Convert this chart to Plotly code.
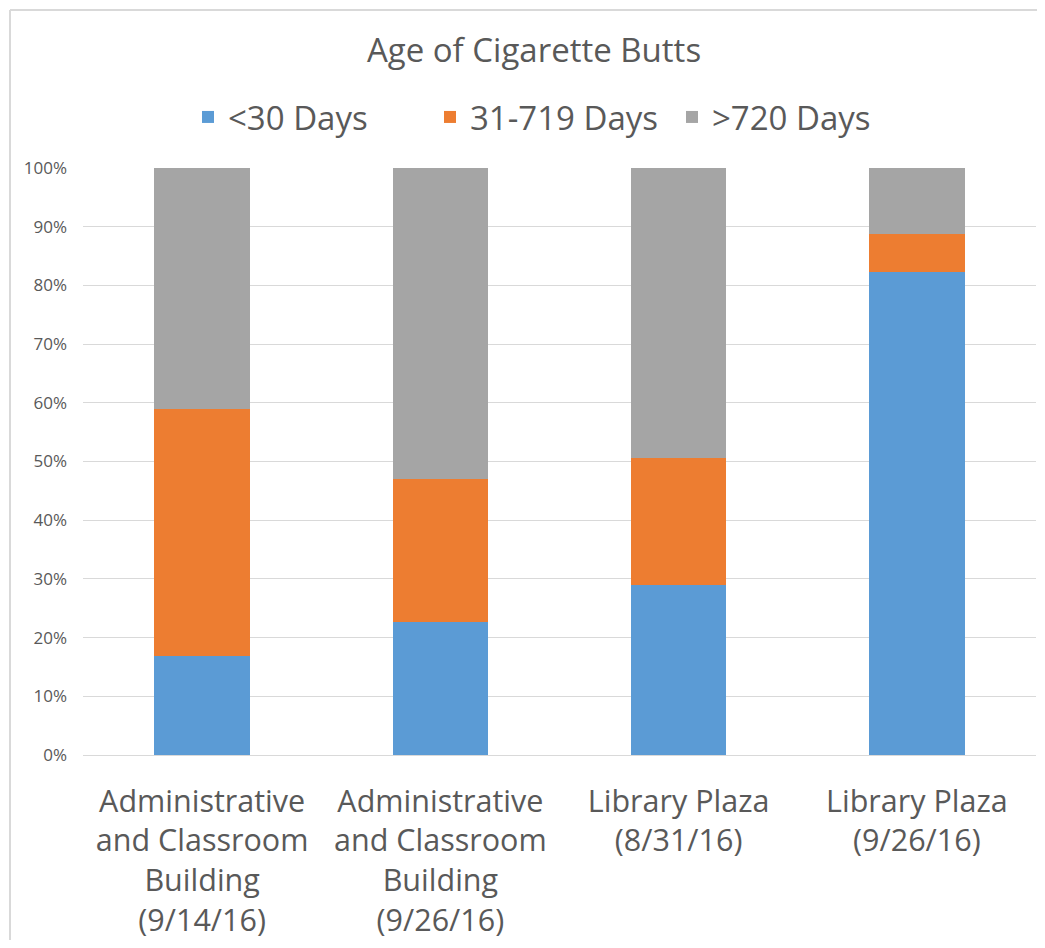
import plotly.graph_objects as go

categories = [
    "Administrative<br>and Classroom<br>Building<br>(9/14/16)",
    "Administrative<br>and Classroom<br>Building<br>(9/26/16)",
    "Library Plaza<br>(8/31/16)",
    "Library Plaza<br>(9/26/16)",
]
under_30 = [0.168, 0.227, 0.290, 0.823]
d31_719 = [0.421, 0.243, 0.216, 0.065]
over_720 = [0.411, 0.530, 0.494, 0.112]

series_names = ["<30 Days", "31-719 Days", ">720 Days"]
colors = ["#5B9BD5", "#ED7D31", "#A5A5A5"]
tick_vals = [i / 10 for i in range(11)]

# page body has an 8px margin; work in figure coordinates (= screen - 8)
W, H = 1029, 932
ML, MT = 75, 160
PR, PB = 1028, 747          # plot right / bottom in figure px
MR, MB = W - PR, H - PB
PW, PH = PR - ML, PB - MT

fig = go.Figure()
for name, vals, col in zip(series_names, [under_30, d31_719, over_720], colors):
    fig.add_trace(go.Bar(x=categories, y=vals, name=name,
                         marker=dict(color=col, line=dict(width=0))))

txt = "#595959"
fig.update_layout(
    width=W, height=H,
    barmode="stack", bargap=0.6,
    margin=dict(l=ML, r=MR, t=MT, b=MB, autoexpand=False),
    paper_bgcolor="white", plot_bgcolor="white",
    font=dict(family="Open Sans", color=txt),
    title=dict(text="Age of Cigarette Butts", x=526 / W, xanchor="center",
               y=1 - 42 / H, yanchor="middle", xref="container", yref="container",
               font=dict(size=33, color=txt, family="Open Sans")),
    legend=dict(orientation="h", x=(180 - ML) / PW, xanchor="left",
                y=1 + (MT - 109) / PH, yanchor="middle",
                font=dict(size=33, color=txt), traceorder="normal",
                entrywidth=197, entrywidthmode="pixels"),
    showlegend=True,
    xaxis=dict(tickfont=dict(size=30.5, color=txt), showgrid=False, showline=True,
               linecolor="#D9D9D9", linewidth=1, ticks="", ticklabelstandoff=19),
    yaxis=dict(range=[0, 1], tickvals=tick_vals, tickformat=".0%",
               tickfont=dict(size=17, color=txt), showgrid=True, gridcolor="#D9D9D9",
               gridwidth=1, zeroline=False, showline=False, ticks="", ticklabelstandoff=15),
)

# chart-area border (left and top edges)
fig.add_shape(type="line", xref="paper", yref="paper",
              x0=(2 - ML) / PW, x1=(W + 5 - ML) / PW,
              y0=1 + (MT - 2) / PH, y1=1 + (MT - 2) / PH,
              line=dict(color="#D9D9D9", width=2))
fig.add_shape(type="line", xref="paper", yref="paper",
              x0=(2 - ML) / PW, x1=(2 - ML) / PW,
              y0=1 + (MT - 2) / PH, y1=-(MB + 5) / PH,
              line=dict(color="#D9D9D9", width=2))

fig.write_html("out.html")
